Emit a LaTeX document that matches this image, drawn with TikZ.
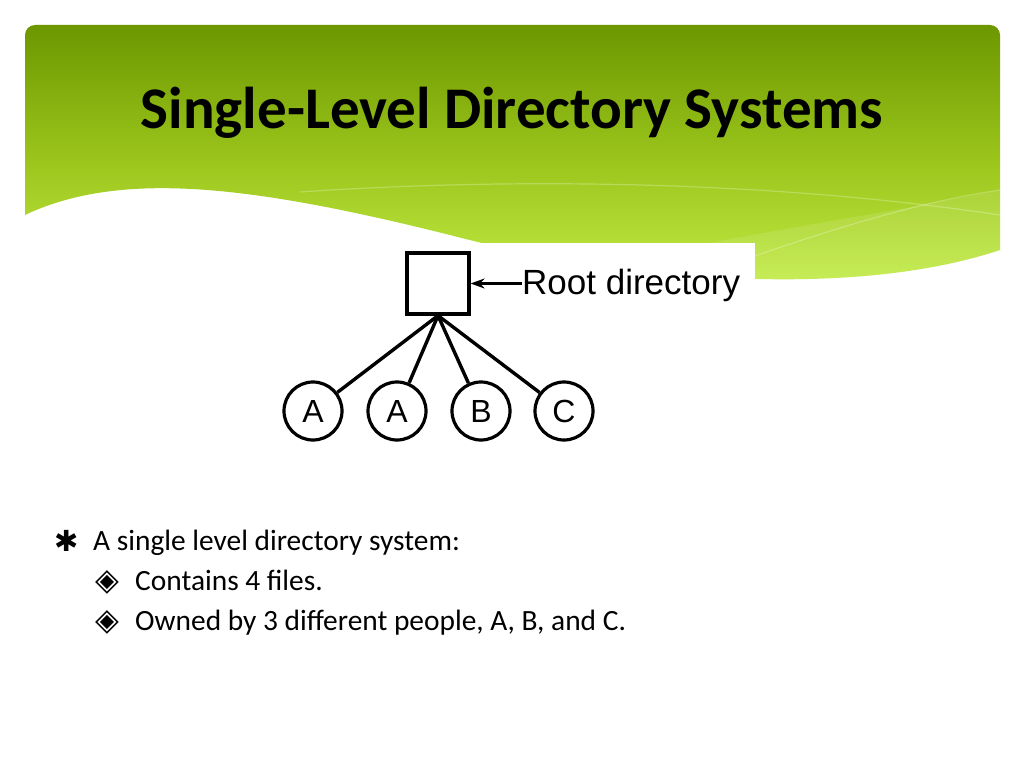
\documentclass[tikz,border=0pt]{standalone}
\usepackage{fontspec}
\setmainfont{Carlito}
\newfontfamily\helv{Liberation Sans}
\newfontfamily\dejavu{DejaVu Sans}
\usetikzlibrary{arrows.meta}
\definecolor{gtop}{HTML}{6C9700}
\definecolor{gmid}{HTML}{9CC61C}
\definecolor{gbot}{HTML}{C6F04A}
\begin{document}
\begin{tikzpicture}[x=1pt,y=-1pt,
  circ/.style={circle,draw,line width=3.2pt,minimum size=58pt,inner sep=0pt,font=\helv\fontsize{32}{32}\selectfont},
  link/.style={line width=3.4pt},
  pointer/.style={line width=2.2pt,-{Stealth[length=14pt,width=10pt]}},
  lvl1/.style={anchor=base west,inner sep=0pt,font=\fontsize{29.4}{29.4}\selectfont},
  bulletsym/.style={anchor=base west,inner sep=0pt},
  wave/.style={white,line width=1.2pt,opacity=0.25},
]
\useasboundingbox (0,0) rectangle (1024,768);
\fill[white] (0,0) rectangle (1024,768);
% green header
\shade[top color=gtop,bottom color=gbot,middle color=gmid]
  (25,215) [rounded corners=10pt] -- (25,25) -- (1000,25) [sharp corners] -- (1000,250)
  .. controls (850,300) and (620,280) .. (450,235)
  .. controls (250,185) and (120,170) .. (25,215) -- cycle;
% lighter wave region and lines
\fill[white,opacity=0.10]
  (620,262) .. controls (760,230) and (880,215) .. (1000,190) -- (1000,250)
  .. controls (850,300) and (720,290) .. (620,262) -- cycle;
\draw[wave] (300,192) .. controls (550,175) and (800,185) .. (1000,215);
\draw[wave] (700,275) .. controls (800,240) and (900,205) .. (1000,190);
% title
\node[anchor=base,inner sep=0pt,font=\bfseries\fontsize{59}{59}\selectfont] (title) at (512,128) {Single-Level Directory Systems};
% picture background
\fill[white] (270,243) rectangle (755,450);
% diagram
\node[draw,line width=3.2pt,minimum width=62pt,minimum height=61pt,inner sep=0pt] (root) at (438,283.5) {};
\node[circ] (a1) at (313,411) {A};
\node[circ] (a2) at (397,411) {A};
\node[circ] (b) at (481,411) {B};
\node[circ] (c) at (564,411) {C};
\foreach \n in {a1,a2,b,c} \draw[link] (root.south) -- (\n);
\node[anchor=base west,inner sep=0pt,font=\helv\fontsize{35}{35}\selectfont] (rootlbl) at (522,294) {Root directory};
\draw[pointer] (rootlbl.west |- root.east) -- (root.east);
% bullets
\node[bulletsym,font=\dejavu\bfseries\fontsize{29}{29}\selectfont] (s1) at (54,551) {✱};
\node[lvl1] (t1) at (93,550) {A single level directory system:};
\node[bulletsym,font=\dejavu\fontsize{31}{31}\selectfont] (s2) at (95,590) {◈};
\node[lvl1] (t2) at (135,590) {Contains 4 files.};
\node[bulletsym,font=\dejavu\fontsize{31}{31}\selectfont] (s3) at (95,630) {◈};
\node[lvl1] (t3) at (135,630) {Owned by 3 different people, A, B, and C.};
\end{tikzpicture}
\end{document}
